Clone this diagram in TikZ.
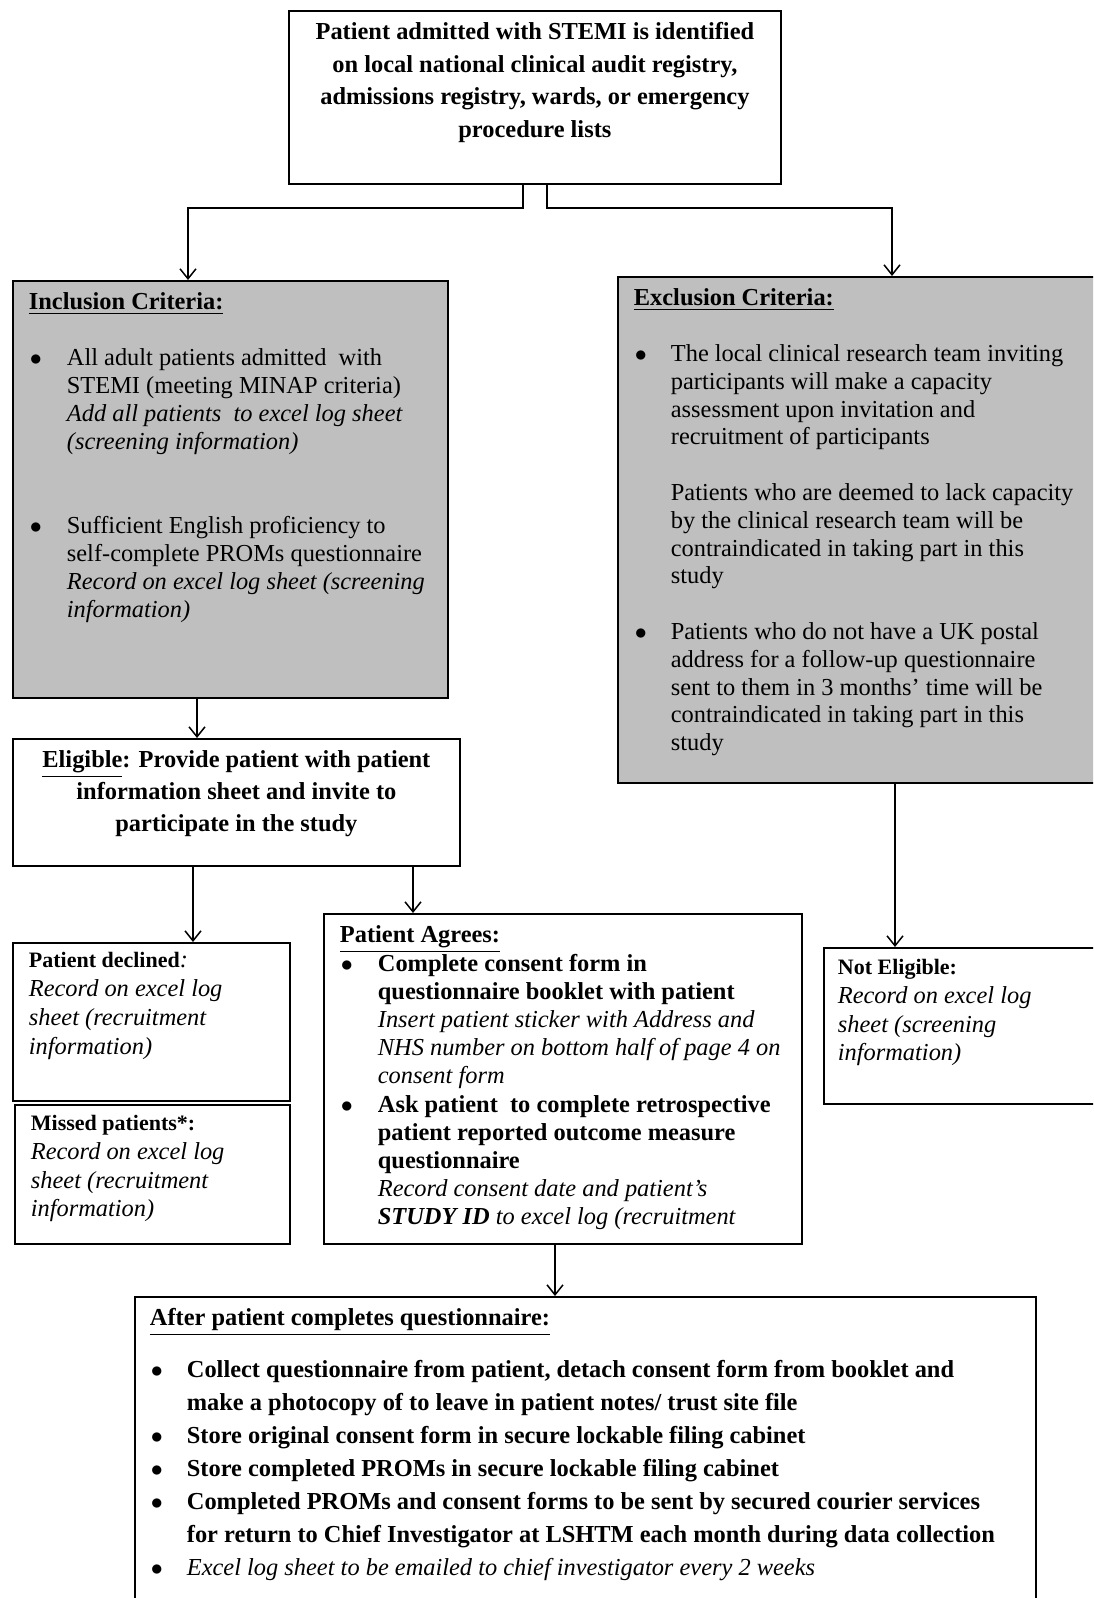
\documentclass[tikz,border=0pt]{standalone}
\usepackage{fontspec}
\setmainfont{Liberation Serif}
\usetikzlibrary{arrows.meta}
\definecolor{critgray}{RGB}{191,191,191}

\newcommand{\boxtext}[5]{\parbox[c][#2][t]{#1}{\fontsize{12.2pt}{#3}\selectfont\rule{0pt}{#4}#5}}
\newcommand{\critem}[2][19pt]{\par\hangindent=#1\hangafter=1\noindent\makebox[#1][l]{\hspace{0.5pt}$\bullet$}#2}
\newcommand{\critmore}[2][19pt]{\par\hangindent=#1\hangafter=0\noindent#2}

\begin{document}
\begin{tikzpicture}[x=0.5pt, y=-0.5pt, line width=0.75pt, >={Straight Barb[length=5pt,width=8pt]}]
\tikzstyle{box} = [draw, line width=0.9pt, inner sep=0pt, anchor=north west];
\tikzstyle{critbox} = [box, fill=critgray];
\useasboundingbox (0,0) rectangle (1093,1598);
\clip (0,0) rectangle (1093,1598);

\node[box] (stemi) at (288,10) {\boxtext{246pt}{86.5pt}{16.25pt}{14.5pt}{\centering\bfseries
  Patient admitted with STEMI is identified\\ on local national clinical audit registry,\\
  admissions registry, wards, or emergency\\ procedure lists}};

\node[critbox] (incl) at (12,280) {\boxtext{217.5pt}{208.5pt}{14pt}{14.5pt}{\leftskip=8pt
  \textbf{\underline{Inclusion Criteria:}}\par\vspace{14pt}
  \critem{All adult patients admitted\ \ with\\ STEMI (meeting MINAP criteria)\\
    \textit{Add all patients\ \ to excel log sheet\\ (screening information)}}\par\vspace{28pt}
  \critem{Sufficient English proficiency to\\ self-complete PROMs questionnaire\\
    \textit{Record on excel log sheet (screening\\ information)}}}};

\node[critbox] (excl) at (617,276) {\boxtext{241.5pt}{253pt}{13.9pt}{14.5pt}{\leftskip=8pt
  \textbf{\underline{Exclusion Criteria:}}\par\vspace{13.9pt}
  \critem[18.5pt]{The local clinical research team inviting\\ participants will make a capacity\\
    assessment upon invitation and\\ recruitment of participants}\par\vspace{13.9pt}
  \critmore[18.5pt]{Patients who are deemed to lack capacity\\ by the clinical research team will be\\
    contraindicated in taking part in this\\ study}\par\vspace{13.9pt}
  \critem[18.5pt]{Patients who do not have a UK postal\\ address for a follow-up questionnaire\\
    sent to them in 3 months’ time will be\\ contraindicated in taking part in this\\ study}}};

\node[box] (elig) at (12,738) {\boxtext{223.5pt}{63.5pt}{16pt}{14.5pt}{\centering\bfseries
  \underline{Eligible}: Provide patient with patient\\ information sheet and invite to\\
  participate in the study}};

\node[box] (decl) at (12,942) {\boxtext{138.5pt}{79pt}{14.5pt}{12.5pt}{\leftskip=8pt
  {\fontsize{11pt}{14.5pt}\selectfont\bfseries Patient declined}\textit{:}\\
  \itshape Record on excel log\\ sheet (recruitment\\ information)}};

\node[box] (missed) at (14,1104) {\boxtext{137.5pt}{69.5pt}{14.3pt}{13pt}{\leftskip=8pt
  {\fontsize{11pt}{14.3pt}\selectfont\bfseries Missed patients*:}\\
  \itshape Record on excel log\\ sheet (recruitment\\ information)}};

\node[box] (agree) at (323,913) {\boxtext{239pt}{165pt}{14.1pt}{14.5pt}{\leftskip=8pt
  \textbf{\underline{Patient Agrees:}}
  \critem{\textbf{Complete consent form in\\ questionnaire booklet with patient}\\
    \textit{Insert patient sticker with Address and\\ NHS number on bottom half of page 4 on\\ consent form}}
  \critem{\textbf{Ask patient\ \ to complete retrospective\\ patient reported outcome measure\\ questionnaire}\\
    \textit{Record consent date and patient’s\\ \textbf{STUDY ID} to excel log (recruitment}}}};

\node[box] (notel) at (823,947) {\boxtext{138.5pt}{78pt}{14.3pt}{13.5pt}{\leftskip=7pt
  {\fontsize{11pt}{14.3pt}\selectfont\bfseries Not Eligible:}\\
  \itshape Record on excel log\\ sheet (screening\\ information)}};

\node[box] (after) at (134,1296) {\boxtext{450.5pt}{170pt}{16.5pt}{14.5pt}{\leftskip=7.5pt
  \textbf{\underline{After patient completes questionnaire:}}\par\vspace{9.5pt}
  \critem[18.5pt]{\textbf{Collect questionnaire from patient, detach consent form from booklet and\\
    make a photocopy of to leave in patient notes/ trust site file}}
  \critem[18.5pt]{\textbf{Store original consent form in secure lockable filing cabinet}}
  \critem[18.5pt]{\textbf{Store completed PROMs in secure lockable filing cabinet}}
  \critem[18.5pt]{\textbf{Completed PROMs and consent forms to be sent by secured courier services\\
    for return to Chief Investigator at LSHTM each month during data collection}}
  \critem[18.5pt]{\textit{Excel log sheet to be emailed to chief investigator every 2 weeks}}}};

\coordinate (sl) at (523,195);
\coordinate (sr) at (547,195);
\coordinate (jl) at (188,208);
\coordinate (jr) at (892,208);
\coordinate (a1) at (197,716);
\coordinate (a2) at (193,900);
\coordinate (a3) at (413,890);
\coordinate (a4) at (895,860);
\coordinate (a5) at (555,1270);

\draw[->] (stemi.south -| sl) |- (jl) -- (incl.north -| jl);
\draw[->] (stemi.south -| sr) |- (jr) -- (excl.north -| jr);
\draw[->] (incl.south -| a1) -- (elig.north -| a1);
\draw[->] (elig.south -| a2) -- (decl.north -| a2);
\draw[->] (elig.south -| a3) -- (agree.north -| a3);
\draw[->] (excl.south -| a4) -- (notel.north -| a4);
\draw[->] (agree.south -| a5) -- (after.north -| a5);
\end{tikzpicture}
\end{document}
